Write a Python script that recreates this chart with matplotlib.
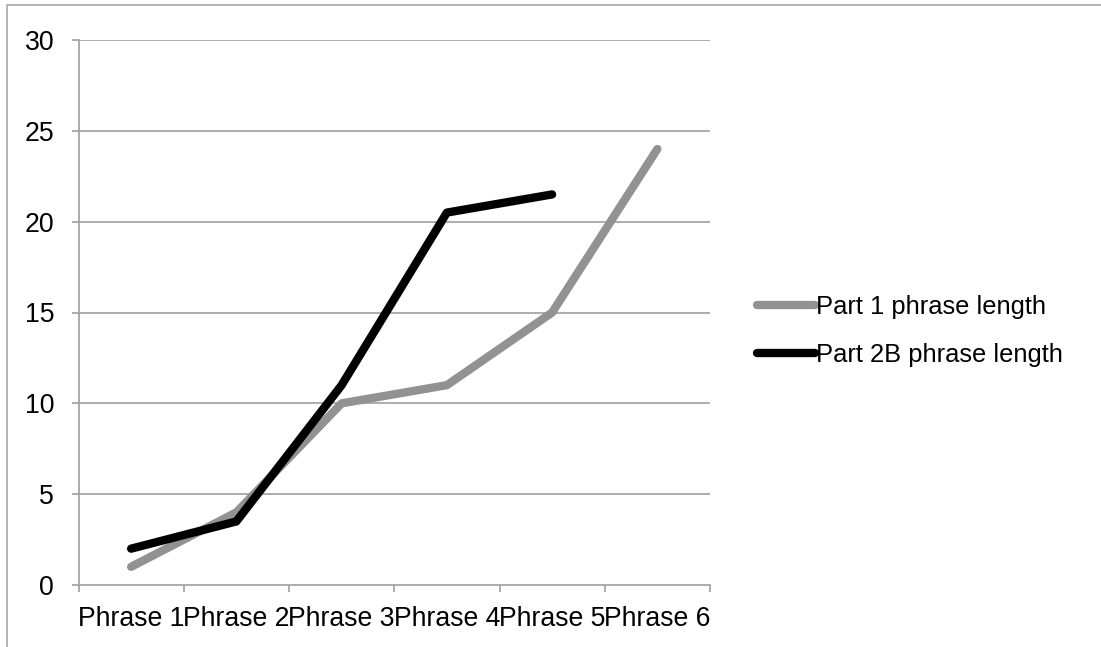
import matplotlib
matplotlib.use("Agg")
import matplotlib.pyplot as plt
from matplotlib.patches import Rectangle

categories = ["Phrase 1", "Phrase 2", "Phrase 3", "Phrase 4", "Phrase 5", "Phrase 6"]
part1 = [1, 4, 10, 11, 15, 24]
part2b = [2, 3.5, 11, 20.5, 21.5]
series_names = ["Part 1 phrase length", "Part 2B phrase length"]
yticks = [0, 5, 10, 15, 20, 25, 30]

plt.rcParams['font.family'] = ['Liberation Sans', 'DejaVu Sans']
W, H = 1101, 647
fig = plt.figure(figsize=(W / 100, H / 100), dpi=100)

# outer frame
fig.patches.append(Rectangle((7 / W, -0.1), 2.0, (H - 5) / H + 0.1,
                             transform=fig.transFigure, fill=False,
                             edgecolor="#b0b0b0", linewidth=1.3))

ax = fig.add_axes([78.5 / W, (H - 585) / H, (710 - 78.5) / W, (585 - 40) / H])
fs = 19.2
lfs = 18.4
grid_c = "#a6a6a6"

x1 = list(range(len(part1)))
x2 = list(range(len(part2b)))
l1, = ax.plot(x1, part1, color="#929292", lw=6, solid_capstyle="round",
              solid_joinstyle="round", label=series_names[0], zorder=3)
l2, = ax.plot(x2, part2b, color="#000000", lw=6, solid_capstyle="round",
              solid_joinstyle="round", label=series_names[1], zorder=4)

ax.set_xlim(-0.5, len(categories) - 0.5)
ax.set_ylim(0, 30)
ax.set_yticks(yticks)
ax.set_yticklabels([str(v) for v in yticks], fontsize=fs)
ax.set_xticks(range(len(categories)))
ax.set_xticklabels(categories, fontsize=fs)
ax.set_xticks([i - 0.5 for i in range(len(categories) + 1)], minor=True)
ax.tick_params(axis="x", which="major", length=0, pad=15)
ax.tick_params(axis="x", which="minor", length=5, width=1.3, color=grid_c, direction="out")
ax.tick_params(axis="y", which="major", length=5, width=1.3, color=grid_c, pad=12.5)

for v in yticks[1:]:
    ax.axhline(v, color=grid_c, lw=1.3, zorder=1)
for s in ["top", "right"]:
    ax.spines[s].set_visible(False)
for s in ["left", "bottom"]:
    ax.spines[s].set_color(grid_c)
    ax.spines[s].set_linewidth(1.3)

leg = fig.legend(handles=[l1, l2], loc="center left",
                 bbox_to_anchor=(757 / W, 1 - 331 / H), frameon=False,
                 fontsize=lfs, handlelength=2.25, handletextpad=0.05,
                 labelspacing=0.97, borderpad=0, borderaxespad=0)
for ln in leg.get_lines():
    ln.set_solid_capstyle("round")

fig.savefig("out.png", dpi=100)
